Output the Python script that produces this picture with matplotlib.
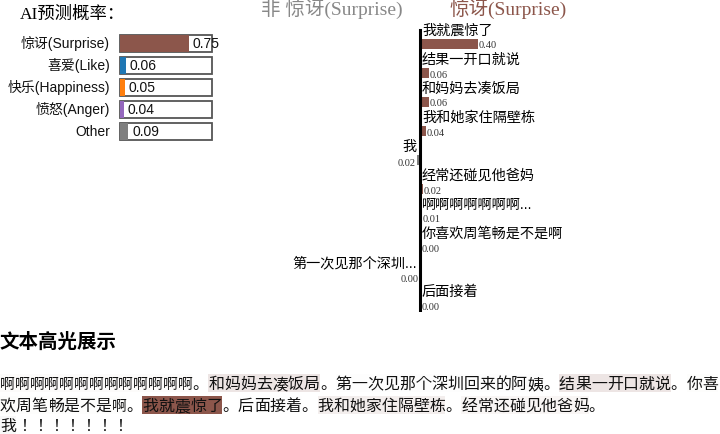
import re
import matplotlib
matplotlib.use("Agg")
import matplotlib.pyplot as plt
from matplotlib.patches import Rectangle

SANS = ["Liberation Sans", "Noto Sans CJK SC", "DejaVu Sans"]
SERIF = ["Liberation Serif", "Noto Sans CJK SC", "DejaVu Sans"]
CJK = ["Noto Sans CJK SC", "DejaVu Sans"]
BODY = ["Noto Sans CJK JP", "DejaVu Sans"]  # full-width ！ and left-set 。

BROWN = "#8c564b"
GRAY = "#7f7f7f"

# ── prediction probabilities ──────────────────────────────────────────────────
class_names = ["惊讶(Surprise)", "喜爱(Like)", "快乐(Happiness)", "愤怒(Anger)", "Other"]
class_probs = [0.75, 0.06, 0.05, 0.04, 0.09]
class_colors = [BROWN, "#1f77b4", "#ff7f0e", "#9467bd", GRAY]

# ── feature weights (LIME style) ─────────────────────────────────────────────
feature_labels = ["我就震惊了", "结果一开口就说", "和妈妈去凑饭局", "我和她家住隔壁栋", "我",
                  "经常还碰见他爸妈", "啊啊啊啊啊啊啊...", "你喜欢周笔畅是不是啊",
                  "第一次见那个深圳...", "后面接着"]
feature_phrases = ["我就震惊了", "结果一开口就说", "和妈妈去凑饭局", "我和她家住隔壁栋", "我",
                   "经常还碰见他爸妈", "啊啊啊啊啊啊啊啊啊啊啊啊啊", "你喜欢周笔畅是不是啊",
                   "第一次见那个深圳回来的阿姨", "后面接着"]
feature_weights = [0.40, 0.06, 0.06, 0.04, -0.02, 0.02, 0.01, 0.004, -0.003, 0.002]

# ── highlighted text, as wrapped in the original ─────────────────────────────
text_lines = ["啊啊啊啊啊啊啊啊啊啊啊啊啊。和妈妈去凑饭局。第一次见那个深圳回来的阿姨。结果一开口就说。你喜",
              "欢周笔畅是不是啊。我就震惊了。后面接着。我和她家住隔壁栋。经常还碰见他爸妈。",
              "我！！！！！！！"]

W, H = 720, 434
fig = plt.figure(figsize=(W / 100, H / 100), dpi=100)


def box(x0, y0, x1, y1):
    # pixel box (top-left origin) -> figure fraction rect
    return [x0 / W, 1 - y1 / H, (x1 - x0) / W, (y1 - y0) / H]


# ── left: probabilities ──────────────────────────────────────────────────────
fig.text(20 / W, 1 - 15 / H, "AI预测概率：", family=SERIF, fontsize=12.5,
         ha="left", va="center")

pax = fig.add_axes(box(120, 32.5, 212, 142.5))
rows = range(len(class_probs))
pax.barh(rows, [1] * len(class_probs), height=0.76, left=0, facecolor="white",
         edgecolor="#555555", linewidth=1.3, clip_on=False, zorder=1)
pax.barh(rows, class_probs, height=0.76, color=class_colors, clip_on=False, zorder=2)
pax.set_xlim(0, 1)
pax.set_ylim(len(class_probs) - 0.5, -0.5)
pax.axis("off")
for i, (name, p) in enumerate(zip(class_names, class_probs)):
    pax.annotate(name, (0, i), xytext=(-10, 0), textcoords="offset pixels",
                 ha="right", va="center", family=SANS, fontsize=10, color="#111111")
    pax.annotate(f"{p:.2f}", (p, i), xytext=(4, 0), textcoords="offset pixels",
                 ha="left", va="center", family=SANS, fontsize=10, color="#111111",
                 zorder=3)

# ── middle: explanation ──────────────────────────────────────────────────────
fig.text(332 / W, 1 - 9 / H, "非 惊讶(Surprise)", family=SERIF, fontsize=14,
         color="#888888", ha="center", va="center")
fig.text(508 / W, 1 - 9 / H, "惊讶(Surprise)", family=SERIF, fontsize=14,
         color=BROWN, ha="center", va="center")

ROW = 29.0
SCALE = 145.0  # px per weight unit
eax = fig.add_axes(box(280, 25, 600, 312))
eax.set_xlim(-140 / SCALE, 180 / SCALE)
eax.set_ylim((312 - 44) / ROW, (25 - 44) / ROW)
eax.axis("off")
frows = list(range(len(feature_weights)))
eax.barh(frows, feature_weights, height=10 / ROW,
         color=[BROWN if w > 0 else GRAY for w in feature_weights])
eax.axvline(0, ymin=(312 - 310) / 287, ymax=(312 - 30) / 287, color="black", lw=2.2)
for i, (lab, w) in enumerate(zip(feature_labels, feature_weights)):
    if w >= 0:
        eax.annotate(lab, (0, i), xytext=(2, 13), textcoords="offset pixels",
                     ha="left", va="center", family=SANS, fontsize=10.2)
        eax.annotate(f"{abs(w):.2f}", (w, i), xytext=(1, -2), textcoords="offset pixels",
                     ha="left", va="center", family=SERIF, fontsize=7.5, color="#333333")
    else:
        eax.annotate(lab, (0, i), xytext=(-3, 13), textcoords="offset pixels",
                     ha="right", va="center", family=SANS, fontsize=10.2)
        eax.annotate(f"{abs(w):.2f}", (w, i), xytext=(-1, -3), textcoords="offset pixels",
                     ha="right", va="center", family=SERIF, fontsize=7.5, color="#333333")

# ── bottom: highlighted text ─────────────────────────────────────────────────
tax = fig.add_axes([0, 0, 1, 1])
tax.set_xlim(0, W)
tax.set_ylim(H, 0)
tax.axis("off")
tax.text(0, 342, "文本高光展示", family=CJK, fontsize=14, fontweight="bold",
         ha="left", va="center")

weight_of = dict(zip(feature_phrases, feature_weights))
max_w = max(abs(w) for w in feature_weights)
full = "".join(text_lines)
char_w = [0.0] * len(full)
for m in re.finditer(r"[^。！]+", full):
    w = weight_of.get(m.group(), 0.0)
    for k in range(m.start(), m.end()):
        char_w[k] = w

FS = 11.48           # body text, pt
FS_A = 10.65         # the repeated 啊 renders narrower in the original
line_y = [383, 405, 425]

g = 0
for li, line in enumerate(text_lines):
    y = line_y[li]
    # cell origins, one em per full-width character
    sizes = [FS_A if ch == "啊" else FS for ch in line]
    xs = [0.0]
    for s in sizes:
        xs.append(xs[-1] + s * 100 / 72)
    # highlight runs
    ci = 0
    while ci < len(line):
        w = char_w[g + ci]
        cj = ci
        while cj < len(line) and char_w[g + cj] == w:
            cj += 1
        if w != 0:
            tax.add_patch(Rectangle((xs[ci], y - 9), xs[cj] - xs[ci], 18,
                                    facecolor=BROWN if w > 0 else GRAY,
                                    alpha=abs(w) / max_w, lw=0))
        ci = cj
    for k, ch in enumerate(line):
        tax.text(xs[k], y + 0.38 * FS * 100 / 72, ch, family=BODY, fontsize=sizes[k],
                 ha="left", va="baseline", color="#111111")
    g += len(line)

fig.savefig("out.png", dpi=100)
